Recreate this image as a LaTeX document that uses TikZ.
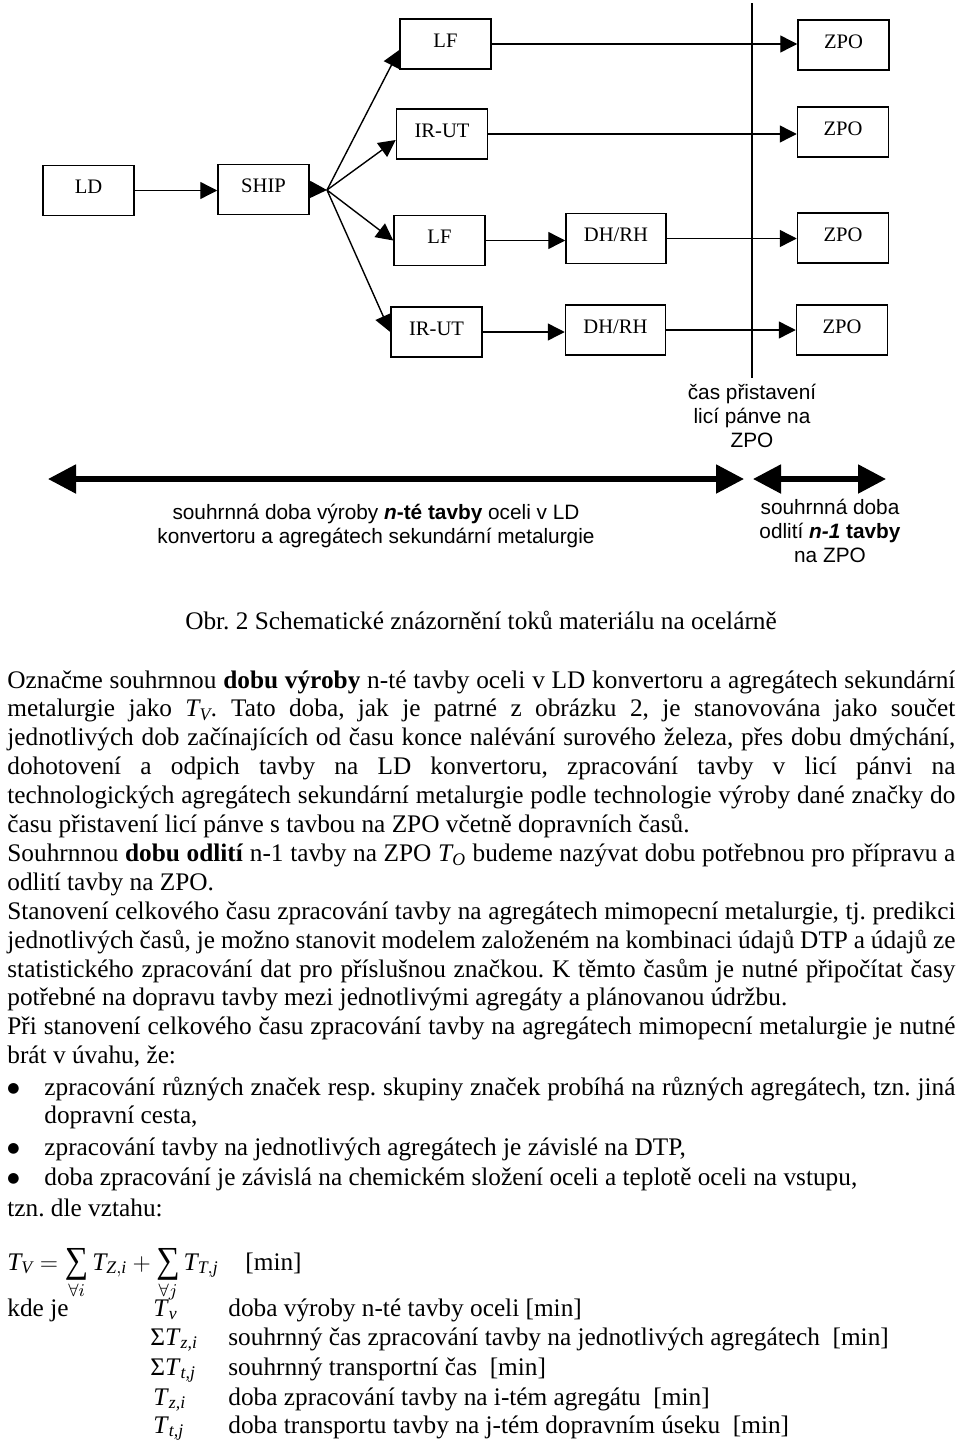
\documentclass[tikz,border=0pt]{standalone}
\usepackage{fontspec}
\setmainfont{Liberation Serif}
\setsansfont{Liberation Sans}
\newfontfamily\dejavu{DejaVu Sans}
\usepackage{amsmath}
\usepackage{graphicx}
\usetikzlibrary{arrows.meta,calc}
\newcommand\jline[3]{\node[body] (#1) at (7,#2) {\makebox[474pt][s]{#3}};}
\newcommand\bline[3]{\node[body] (#1) at (44,#2) {\makebox[455.5pt][s]{#3}};}
\newcommand\bsum{\mathop{\vcenter{\hbox{\scalebox{1.3}[1.45]{∑}}}}\limits}
\newcommand\bigbul{{\dejavu\fontsize{7}{7}\selectfont ●}}
\tikzset{
 box/.style={draw, line width=0.75pt, minimum width=45.5pt, minimum height=25pt, inner sep=0pt, text height=7pt, text depth=4pt, font=\fontsize{10.3}{12}\selectfont},
 flow/.style={line width=0.7pt, -{Triangle[length=8.5pt,width=8.5pt]}},
 span/.style={line width=2.6pt, {Triangle[length=14pt,width=14pt]}-{Triangle[length=14pt,width=14pt]}},
 lbl/.style={font=\sffamily\fontsize{10.4}{12}\selectfont, inner sep=0pt, anchor=base},
 body/.style={font=\fontsize{12.65}{14.45}\selectfont\frenchspacing, inner sep=0pt, anchor=base west},
}
\begin{document}
\begin{tikzpicture}[x=0.5pt,y=-0.5pt]
\useasboundingbox (0,0) rectangle (960,1440);
\fill[white] (0,0) rectangle (960,1440);
% boxes
\node[box] (ld) at (88.5,190.5) {LD};
\node[box] (ship) at (263.5,189.5) {SHIP};
\node[box] (lf1) at (445.5,44) {LF};
\node[box] (ir1) at (442,134) {IR-UT};
\node[box] (lf2) at (439.5,240.5) {LF};
\node[box] (ir2) at (436.5,332) {IR-UT};
\node[box, minimum width=50pt] (dh1) at (616,238.5) {DH/RH};
\node[box, minimum width=50pt] (dh2) at (615.5,330) {DH/RH};
\node[box] (z1) at (843.5,45) {ZPO};
\node[box] (z2) at (843,132) {ZPO};
\node[box] (z3) at (843,238) {ZPO};
\node[box] (z4) at (842,330) {ZPO};
% connectors
\coordinate (br) at (327,190);
\draw[flow] (ld.east) -- (ld.east -| ship.west);
\draw[flow] (ship.east) -- (br);
\draw[flow] (br) -- ($(lf1.west)+(0,6)$);
\draw[flow] (br) -- ($(ir1.west)+(0,6)$);
\draw[flow] (br) -- (lf2.west);
\draw[flow] (br) -- (ir2.west);
\draw[flow] (lf1.east) -- (lf1.east -| z1.west);
\draw[flow] (ir1.east) -- (ir1.east -| z2.west);
\draw[flow] (lf2.east) -- (lf2.east -| dh1.west);
\draw[flow] (dh1.east) -- (dh1.east -| z3.west);
\draw[flow] (ir2.east) -- (ir2.east -| dh2.west);
\draw[flow] (dh2.east) -- (dh2.east -| z4.west);
\coordinate (vt) at (752,3);
\coordinate (vb) at (752,378);
\draw[line width=0.75pt] (vt) -- (vb);
% spans
\coordinate (a1) at (48,479);
\coordinate (a2) at (744,479);
\coordinate (c1) at (753,479);
\coordinate (c2) at (886,479);
\draw[span] (a1) -- (a2);
\draw[span] (c1) -- (c2);
% labels
\node[lbl] (t1) at (752,399) {čas přistavení};
\node[lbl] (t2) at (752,423) {licí pánve na};
\node[lbl] (t3) at (752,447) {ZPO};
\node[lbl] (l1) at (376,519) {souhrnná doba výroby \textbf{\textit{n}-té tavby} oceli v LD};
\node[lbl] (l2) at (376,543) {konvertoru a agregátech sekundární metalurgie};
\node[lbl] (r1) at (830,514) {souhrnná doba};
\node[lbl] (r2) at (830,538) {odlití \textbf{\textit{n-1} tavby}};
\node[lbl] (r3) at (830,562) {na ZPO};
% caption
\node[body, anchor=base] (cap) at (481,629) {Obr. 2 Schematické znázornění toků materiálu na ocelárně};
% body text
\jline{p1}{688}{Označme souhrnnou \textbf{dobu výroby} n-té tavby oceli v LD konvertoru a agregátech sekundární}
\jline{p2}{716.9}{metalurgie jako {\itshape T\textsubscript{V}.} Tato doba, jak je patrné z obrázku 2, je stanovována jako součet}
\jline{p3}{745.8}{jednotlivých dob začínajících od času konce nalévání surového železa, přes dobu dmýchání,}
\jline{p4}{774.7}{dohotovení a odpich tavby na LD konvertoru, zpracování tavby v licí pánvi na}
\jline{p5}{803.6}{technologických agregátech sekundární metalurgie podle technologie výroby dané značky do}
\node[body] (p6) at (7,832.5) {času přistavení licí pánve s tavbou na ZPO včetně dopravních časů.};
\jline{p7}{861.4}{Souhrnnou \textbf{dobu odlití} n-1 tavby na ZPO {\itshape T\textsubscript{O}} budeme nazývat dobu potřebnou pro přípravu a}
\node[body] (p8) at (7,890.3) {odlití tavby na ZPO.};
\jline{p9}{919.2}{Stanovení celkového času zpracování tavby na agregátech mimopecní metalurgie, tj. predikci}
\jline{p10}{948.1}{jednotlivých časů, je možno stanovit modelem založeném na kombinaci údajů DTP a údajů ze}
\jline{p11}{977}{statistického zpracování dat pro příslušnou značkou. K těmto časům je nutné připočítat časy}
\node[body] (p12) at (7,1005.9) {potřebné na dopravu tavby mezi jednotlivými agregáty a plánovanou údržbu.};
\jline{p13}{1034.8}{Při stanovení celkového času zpracování tavby na agregátech mimopecní metalurgie je nutné}
\node[body] (p14) at (7,1063.7) {brát v úvahu, že:};
\node[body] (u1) at (7,1092) {\bigbul};
\bline{p15}{1095}{zpracování různých značek resp. skupiny značek probíhá na různých agregátech, tzn. jiná}
\node[body] (p16) at (44,1123) {dopravní cesta,};
\node[body] (u2) at (7,1152) {\bigbul};
\node[body] (p17) at (44,1155) {zpracování tavby na jednotlivých agregátech je závislé na DTP,};
\node[body] (u3) at (7,1182) {\bigbul};
\node[body] (p18) at (44,1185) {doba zpracování je závislá na chemickém složení oceli a teplotě oceli na vstupu,};
\node[body] (p19) at (7,1216) {tzn. dle vztahu:};
% formula
\node[body] (f1) at (7,1270) {$\textit{T}_{\textit{V}} = \bsum_{\forall i} \textit{T}_{\textit{Z},\textit{i}} + \bsum_{\forall j} \textit{T}_{\textit{T},\textit{j}}$};
\node[body] (f2) at (245,1270) {[min]};
% legend
\node[body] (k0) at (7,1316) {kde je};
\node[body] (k1) at (153,1316) {\textit{T}\textsubscript{\textit{v}}};
\node[body] (d1) at (228,1316) {doba výroby n-té tavby oceli [min]};
\node[body] (k2) at (150,1345) {Σ\textit{T}\textsubscript{\textit{z,i}}};
\node[body] (d2) at (228,1345) {souhrnný čas zpracování tavby na jednotlivých agregátech\ \ [min]};
\node[body] (k3) at (150,1375) {Σ\textit{T}\textsubscript{\textit{t,j}}};
\node[body] (d3) at (228,1375) {souhrnný transportní čas\ \ [min]};
\node[body] (k4) at (153,1405) {\textit{T}\textsubscript{\textit{z,i}}};
\node[body] (d4) at (228,1405) {doba zpracování tavby na i-tém agregátu\ \ [min]};
\node[body] (k5) at (153,1433) {\textit{T}\textsubscript{\textit{t,j}}};
\node[body] (d5) at (228,1433) {doba transportu tavby na j-tém dopravním úseku\ \ [min]};
\end{tikzpicture}
\end{document}
